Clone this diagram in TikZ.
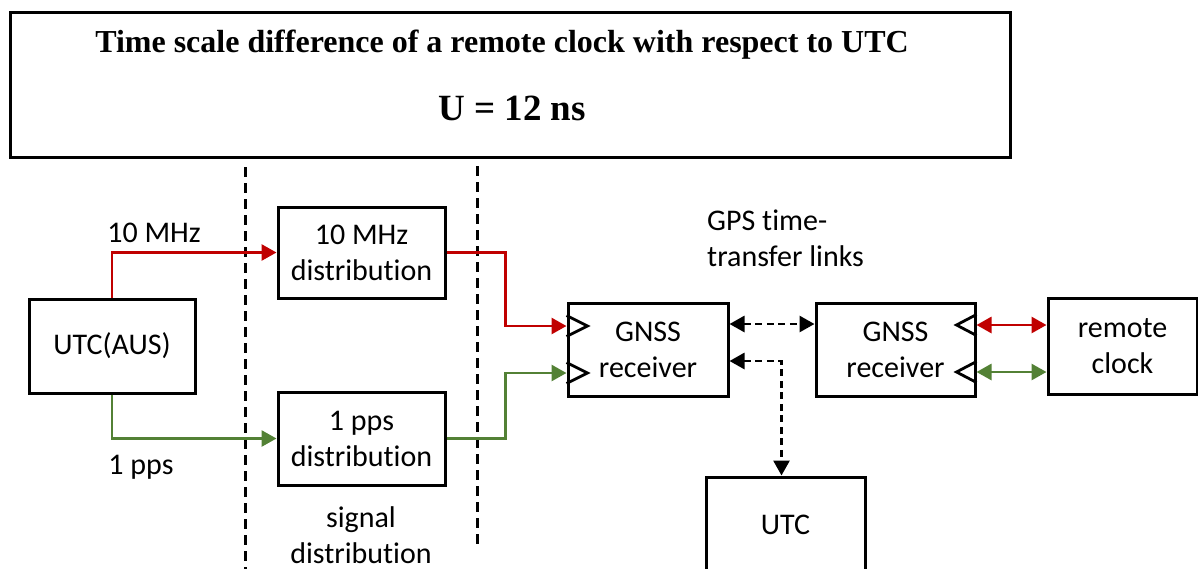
\documentclass[tikz,border=0pt]{standalone}
\usepackage{fontspec}
\setmainfont{Carlito}[Ligatures=NoCommon]
\newfontfamily\titlefont{Liberation Serif}
\usetikzlibrary{arrows.meta,calc}
\definecolor{sigred}{HTML}{C00000}
\definecolor{siggreen}{HTML}{538135}

\begin{document}
\begin{tikzpicture}[x=1pt,y=-1pt,
  txt/.style={font=\fontsize{30}{36}\selectfont},
  box/.style={draw, line width=3pt, inner sep=0pt, align=center, txt},
  lbl/.style={inner sep=0pt, align=center, txt},
  tip/.style={-{Triangle[length=15pt,width=16pt]}},
  tips/.style={{Triangle[length=15pt,width=16pt]}-{Triangle[length=15pt,width=16pt]}},
  link/.style={line width=2.8pt, tip},
  dlink/.style={line width=2.8pt, dash pattern=on 7pt off 4.5pt},
  divider/.style={line width=3pt, dash pattern=on 10pt off 6pt},
  clk/.style={line width=2.8pt, line join=miter}
]
\useasboundingbox (0,0) rectangle (1198,568);
\clip (0,0) rectangle (1198,568);

% headline box
\node[draw, line width=3pt, minimum width=1000pt, minimum height=145pt] (title) at (510,84.5) {};
\node[inner sep=0pt, font=\titlefont\bfseries\fontsize{32}{38}\selectfont] (title1) at (502,45)
  {Time scale difference of a remote clock with respect to UTC};
\node[inner sep=0pt, font=\titlefont\bfseries\fontsize{37}{42}\selectfont] (title2) at (512,108)
  {U = 12 ns};

% signal distribution dividers
\coordinate (d1a) at (245,167);
\coordinate (d1b) at (245,570);
\coordinate (d2a) at (477,166);
\coordinate (d2b) at (477,550);
\draw[divider] (d1a) -- (d1b);
\draw[divider] (d2a) -- (d2b);

% blocks
\node[box, minimum width=166pt, minimum height=94pt] (aus) at (112,346) {UTC(AUS)};
\node[box, minimum width=167pt, minimum height=91pt] (mhz) at (361.5,252.5) {10 MHz\\distribution};
\node[box, minimum width=167pt, minimum height=93pt] (pps) at (361.5,438.5) {1 pps\\distribution};
\node[box, minimum width=160pt, minimum height=93pt] (gnssA) at (648,349.5) {GNSS\\receiver};
\node[box, minimum width=159pt, minimum height=93pt] (gnssB) at (895.5,349.5) {GNSS\\receiver};
\node[box, minimum width=149pt, minimum height=96pt] (remote) at (1122.5,346) {remote\\clock};
\node[box, minimum width=159pt, minimum height=96pt] (utc) at (785.5,525) {UTC};

% labels
\node[lbl] (lmhz) at (154,233) {10 MHz};
\node[lbl] (lpps) at (141,467) {1 pps};
\node[lbl, anchor=west, align=left] (lgps) at (707,238) {GPS time-\\transfer links};
\node[lbl] (lsig) at (361,535) {signal\\distribution};

% receiver ports
\coordinate (inA1) at ([yshift=23.5pt]gnssA.west);
\coordinate (inA2) at ([yshift=-23.5pt]gnssA.west);
\coordinate (outB1) at ([yshift=24.5pt]gnssB.east);
\coordinate (outB2) at ([yshift=-22.5pt]gnssB.east);
\coordinate (linkA) at ([yshift=25.5pt]gnssA.east);
\coordinate (utcA) at ([yshift=-11.5pt]gnssA.east);
\coordinate (utcIn) at ([xshift=-4pt]utc.north);

\draw[clk] ($(inA1)+(0,-10.5)$) -- ++(21,10.5) -- ++(-21,10.5);
\draw[clk] ($(inA2)+(0,-10.5)$) -- ++(21,10.5) -- ++(-21,10.5);
\draw[clk] ($(outB1)+(0,-10.5)$) -- ++(-20,10.5) -- ++(20,10.5);
\draw[clk] ($(outB2)+(0,-10.5)$) -- ++(-20,10.5) -- ++(20,10.5);

% reference signals
\draw[link, sigred] (aus.north) |- (mhz.west);
\draw[link, siggreen] (aus.south) |- (pps.west);
\draw[link, sigred] (mhz.east) -| ($(inA1)+(-61,0)$) -- (inA1);
\draw[link, siggreen] (pps.east) -| ($(inA2)+(-61,0)$) -- (inA2);
\draw[line width=2.8pt, tips, sigred] (outB1) -- (remote.west |- outB1);
\draw[line width=2.8pt, tips, siggreen] (outB2) -- (remote.west |- outB2);

% time-transfer links
\draw[dlink, tips] (linkA) -- (gnssB.west |- linkA);
\draw[dlink, tips] (utcA) -| (utcIn);
\end{tikzpicture}
\end{document}
